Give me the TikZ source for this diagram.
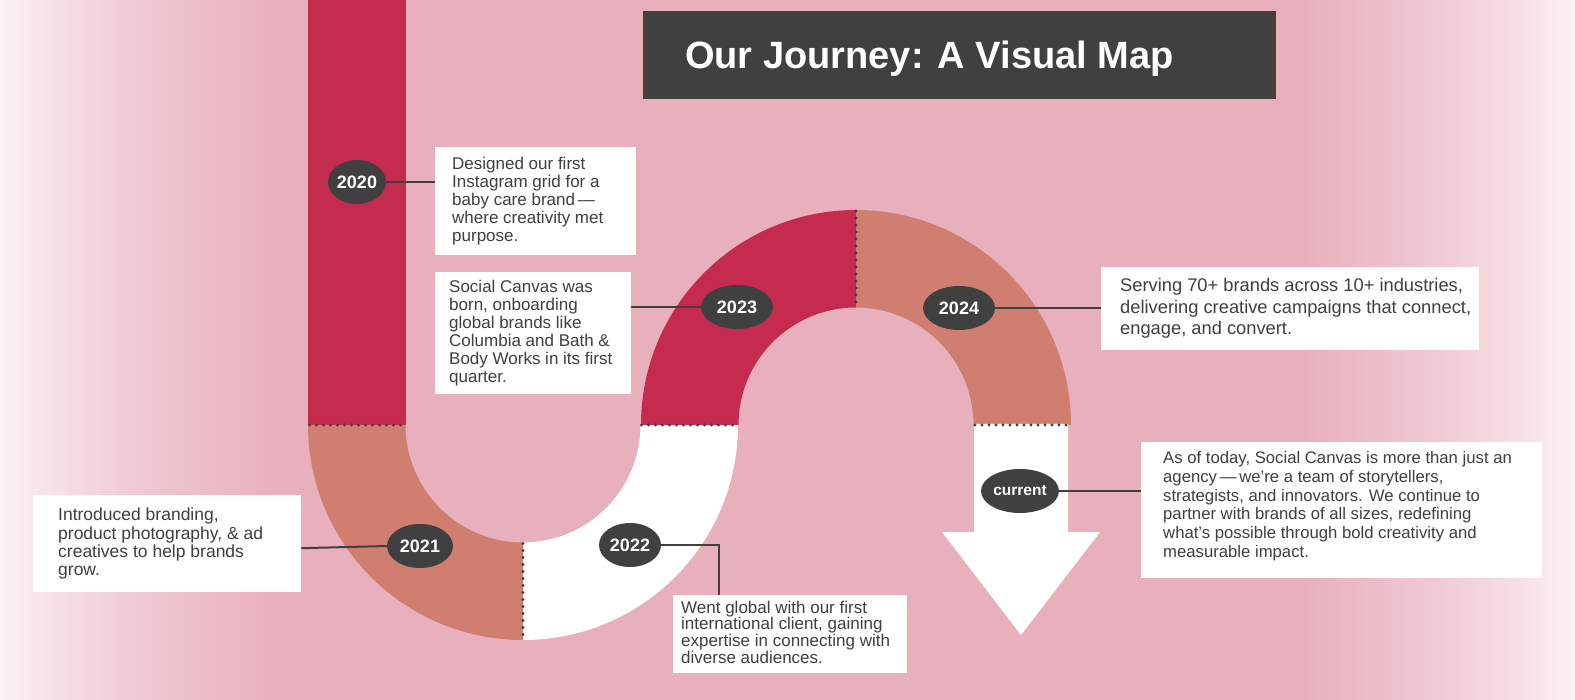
\documentclass[tikz,border=0pt]{standalone}
\usepackage{fontspec}
\setmainfont{Liberation Sans}
\usetikzlibrary{shapes.geometric}
\definecolor{bgpink}{HTML}{E8AFBC}
\definecolor{bgmid}{HTML}{F1CDD5}
\definecolor{bgedge}{HTML}{FBF0F2}
\definecolor{crim}{HTML}{C52B4E}
\definecolor{salm}{HTML}{D07E6F}
\definecolor{darkg}{HTML}{404040}
\definecolor{txt}{HTML}{3F3F3F}
\begin{document}
\begin{tikzpicture}[x=1pt,y=-1pt,
  yearlbl/.style={ellipse, fill=darkg, text=white, inner sep=0pt, minimum height=44pt, font=\bfseries\fontsize{18}{20}\selectfont},
  infobox/.style={rectangle, fill=white, inner sep=0pt, anchor=north west},
  infotext/.style={anchor=west, align=left, text=txt, inner sep=0pt},
  conn/.style={draw=darkg, line width=2pt},
  dots/.style={draw=darkg, line width=3.4pt, line cap=round, dash pattern=on 0pt off 7pt}
]
% background
\useasboundingbox (0,0) rectangle (1575,700);
\fill[bgpink] (0,0) rectangle (1575,700);
\shade[left color=bgedge, right color=bgmid] (0,0) rectangle (121,700);
\shade[left color=bgmid, right color=bgpink] (120,0) rectangle (280,700);
\shade[left color=bgpink, right color=bgmid] (1300,0) rectangle (1451,700);
\shade[left color=bgmid, right color=bgedge] (1450,0) rectangle (1575,700);

% path shapes
\fill[crim] (308,0) rectangle (405.5,425);
\fill[salm] (308,425) arc[start angle=180, end angle=270, radius=215pt] -- (523,542.5) arc[start angle=270, end angle=180, radius=117.5pt] -- cycle;
\fill[white] (523,640) arc[start angle=270, end angle=360, radius=215pt] -- (640.5,425) arc[start angle=0, end angle=-90, radius=117.5pt] -- cycle;
\fill[crim] (641,425) arc[start angle=180, end angle=90, radius=215pt] -- (856,307.5) arc[start angle=90, end angle=180, radius=117.5pt] -- cycle;
\fill[salm] (856,210) arc[start angle=90, end angle=0, radius=215pt] -- (973.5,425) arc[start angle=0, end angle=90, radius=117.5pt] -- cycle;
\fill[white] (974,424) -- (1068,424) -- (1068,532) -- (1100,532) -- (1021,635) -- (942,532) -- (974,532) -- cycle;

% dotted seams
\draw[dots] (309.5,425) -- (405.5,425);
\draw[dots] (641.5,425) -- (738,425);
\draw[dots] (975,425) -- (1071,425);
\draw[dots] (523,543.5) -- (523,640);
\draw[dots] (856,211) -- (856,307.5);

% title
\node[fill=darkg, minimum width=633pt, minimum height=88pt, anchor=north west, inner sep=0pt] (titlebox) at (643,11) {};
\node[anchor=base west, text=white, inner sep=0pt, font=\bfseries\fontsize{38}{40}\selectfont] (title) at (685,69) {Our Journey: A Visual Map};

% info boxes
\node[infobox, minimum width=201pt, minimum height=108pt] (b2020) at (435,147) {};
\node[infotext, font=\fontsize{17}{18}\selectfont] (t2020) at ([xshift=17pt]b2020.west) {Designed our first\\Instagram grid for a\\baby care brand\,—\\where creativity met\\purpose.};

\node[infobox, minimum width=196pt, minimum height=122pt] (b2023) at (435,272) {};
\node[infotext, font=\fontsize{17}{18}\selectfont] (t2023) at ([xshift=14pt]b2023.west) {Social Canvas was\\born, onboarding\\global brands like\\Columbia and Bath \&\\Body Works in its first\\quarter.};

\node[infobox, minimum width=268pt, minimum height=97pt] (b2021) at (33,495) {};
\node[infotext, font=\fontsize{17.5}{18.4}\selectfont] (t2021) at ([xshift=25pt]b2021.west) {Introduced branding,\\product photography, \& ad\\creatives to help brands\\grow.};

\node[infobox, minimum width=234pt, minimum height=78pt] (b2022) at (673,595) {};
\node[infotext, font=\fontsize{17}{15.4}\selectfont] (t2022) at ([xshift=8pt,yshift=2pt]b2022.west) {Went global with our first\\international client, gaining\\expertise in connecting with\\diverse audiences.};

\node[infobox, minimum width=378pt, minimum height=83pt] (b2024) at (1101,267) {};
\node[infotext, font=\fontsize{18.3}{21.5}\selectfont] (t2024) at ([xshift=19pt]b2024.west) {Serving 70+ brands across 10+ industries,\\delivering creative campaigns that connect,\\engage, and convert.};

\node[infobox, minimum width=401pt, minimum height=136pt] (bcur) at (1141,442) {};
\node[infotext, font=\fontsize{16.7}{18.8}\selectfont] (tcur) at ([xshift=22pt,yshift=4pt]bcur.west) {As of today, Social Canvas is more than just an\\agency\,—\,we’re a team of storytellers,\\strategists, and innovators. We continue to\\partner with brands of all sizes, redefining\\what’s possible through bold creativity and\\measurable impact.};

% year labels
\node[yearlbl, minimum width=58pt] (e2020) at (357,182) {2020};
\node[yearlbl, minimum width=66pt] (e2021) at (420,546) {2021};
\node[yearlbl, minimum width=62pt] (e2022) at (630,545) {2022};
\node[yearlbl, minimum width=72pt] (e2023) at (737,307) {2023};
\node[yearlbl, minimum width=72pt] (e2024) at (959,308) {2024};
\node[yearlbl, minimum width=78pt, font=\bfseries\fontsize{15.5}{18}\selectfont] (ecur) at (1020,491) {current};
\coordinate (k2022) at (719,545);

% connectors
\draw[conn] (e2020.east) -- (e2020.east -| b2020.west);
\draw[conn] (b2023.east |- e2023.west) -- (e2023.west);
\draw[conn] ([yshift=-4.5pt]b2021.east) -- (e2021.west);
\draw[conn] (e2022.east) -- (k2022) -- (k2022 |- b2022.north);
\draw[conn] (e2024.east) -- (e2024.east -| b2024.west);
\draw[conn] (ecur.east) -- (ecur.east -| bcur.west);
\end{tikzpicture}
\end{document}
